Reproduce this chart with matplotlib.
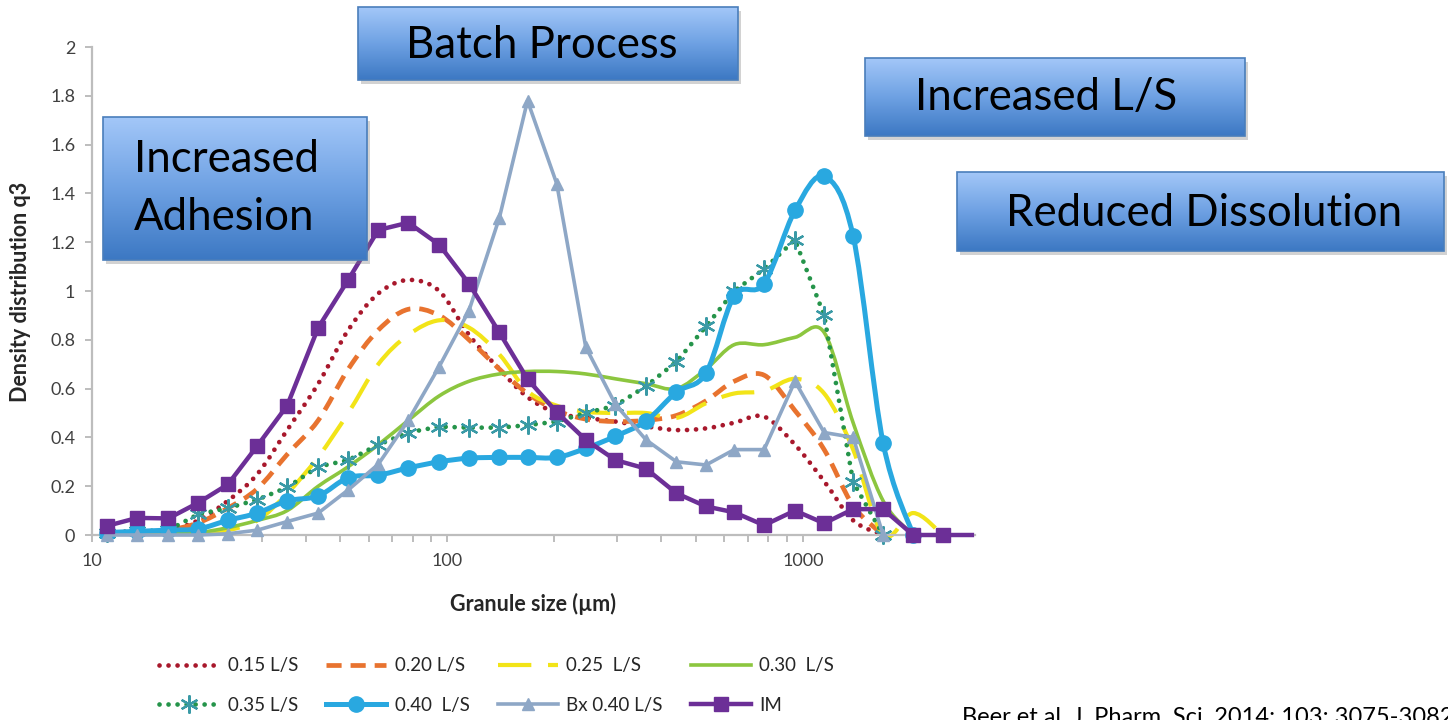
import numpy as np
import matplotlib
matplotlib.use("Agg")
import matplotlib.pyplot as plt
from matplotlib.colors import LinearSegmentedColormap
from matplotlib.patches import Rectangle, PathPatch
from matplotlib.path import Path
from matplotlib.lines import Line2D
from matplotlib.ticker import FixedLocator, FixedFormatter, NullFormatter

plt.rcParams['font.family'] = ['Lato', 'DejaVu Sans']

# granule size classes (um)
sizes = [11.0, 13.4, 16.4, 19.9, 24.1, 29.2, 35.4, 43.3, 52.6, 63.9,
         77.6, 94.8, 115, 140, 168, 203, 245, 297, 362, 441,
         534, 641, 778, 950, 1148, 1385, 1682, 2043, 2472, 2989]

# density distribution q3 per series
q_015 = [0.01, 0.015, 0.02, 0.06, 0.14, 0.25, 0.43, 0.62, 0.84, 0.99,
         1.045, 1.0, 0.82, 0.68, 0.565, 0.50, 0.48, 0.465, 0.445, 0.43,
         0.437, 0.46, 0.485, 0.37, 0.22, 0.06, 0.0]
q_020 = [0.01, 0.012, 0.02, 0.05, 0.11, 0.19, 0.33, 0.47, 0.68, 0.84,
         0.925, 0.90, 0.80, 0.68, 0.58, 0.51, 0.475, 0.465, 0.47, 0.49,
         0.55, 0.63, 0.655, 0.51, 0.35, 0.12, 0.0]
q_025 = [0.005, 0.005, 0.01, 0.01, 0.02, 0.06, 0.17, 0.32, 0.50, 0.70,
         0.82, 0.88, 0.85, 0.74, 0.59, 0.53, 0.505, 0.50, 0.50, 0.48,
         0.54, 0.58, 0.59, 0.64, 0.58, 0.35, 0.0, 0.09, 0.0]
q_030 = [0.005, 0.005, 0.01, 0.01, 0.03, 0.06, 0.10, 0.20, 0.28, 0.37,
         0.47, 0.57, 0.63, 0.66, 0.67, 0.67, 0.66, 0.64, 0.62, 0.60,
         0.68, 0.78, 0.78, 0.81, 0.83, 0.46, 0.14, 0.0]
q_035 = [0.01, 0.015, 0.02, 0.085, 0.11, 0.145, 0.195, 0.28, 0.307, 0.37,
         0.42, 0.444, 0.44, 0.44, 0.45, 0.465, 0.50, 0.53, 0.61, 0.71,
         0.855, 1.0, 1.09, 1.21, 0.90, 0.217, 0.0]
q_040 = [0.01, 0.015, 0.02, 0.025, 0.06, 0.09, 0.14, 0.16, 0.235, 0.245,
         0.275, 0.30, 0.315, 0.318, 0.318, 0.318, 0.355, 0.405, 0.467, 0.586,
         0.664, 0.98, 1.03, 1.33, 1.47, 1.225, 0.377, 0.0]
q_bx = [0.0, 0.0, 0.0, 0.0, 0.005, 0.02, 0.055, 0.09, 0.185, 0.29,
        0.47, 0.69, 0.92, 1.30, 1.78, 1.44, 0.77, 0.535, 0.39, 0.30,
        0.287, 0.35, 0.35, 0.63, 0.42, 0.40, 0.0]
q_im = [0.037, 0.07, 0.068, 0.132, 0.207, 0.366, 0.53, 0.85, 1.046, 1.25,
        1.28, 1.19, 1.03, 0.83, 0.639, 0.503, 0.39, 0.307, 0.272, 0.171,
        0.117, 0.093, 0.04, 0.10, 0.048, 0.106, 0.106, 0.0, 0.0, 0.0]

y_ticks = [0, 0.2, 0.4, 0.6, 0.8, 1, 1.2, 1.4, 1.6, 1.8, 2]
y_labels = ['0', '0.2', '0.4', '0.6', '0.8', '1', '1.2', '1.4', '1.6', '1.8', '2']
x_major = [10, 100, 1000]
x_minor = [20, 30, 40, 50, 60, 70, 80, 90, 200, 300, 400, 500, 600, 700, 800, 900]

W, H = 1448, 720
fig = plt.figure(figsize=(W / 100, H / 100), dpi=100)
fig.patch.set_facecolor('white')

ax = fig.add_axes([92 / W, 1 - 535 / H, (975 - 92) / W, (535 - 47) / H])
ax.set_xscale('log')
ax.set_xlim(10, 3050)
ax.set_ylim(0, 2)


def smooth_path(xs, ys):
    # Excel style smoothed line: Catmull-Rom as cubic Bezier, done in log-x space
    lx = np.log10(np.asarray(xs, float))
    y = np.asarray(ys, float)
    verts = [(xs[0], ys[0])]
    codes = [Path.MOVETO]
    m = len(lx)
    for i in range(m - 1):
        i0 = max(i - 1, 0)
        i3 = min(i + 2, m - 1)
        c1 = (lx[i] + (lx[i + 1] - lx[i0]) / 6, y[i] + (y[i + 1] - y[i0]) / 6)
        c2 = (lx[i + 1] - (lx[i3] - lx[i]) / 6, y[i + 1] - (y[i3] - y[i]) / 6)
        verts += [(10 ** c1[0], c1[1]), (10 ** c2[0], c2[1]), (xs[i + 1], ys[i + 1])]
        codes += [Path.CURVE4] * 3
    return Path(verts, codes)


def series(q, color, lw, ls='-', smooth=False, z=2, **mk):
    xs = sizes[:len(q)]
    if smooth:
        p = PathPatch(smooth_path(xs, q), fill=False, ec=color, lw=lw, ls=ls,
                      capstyle='round' if mk.pop('round', False) else 'butt',
                      zorder=z, clip_on=False)
        ax.add_patch(p)
        if 'marker' in mk:
            ax.plot(xs, q, ls='none', color=color, zorder=z, clip_on=False, **mk)
    else:
        rnd = mk.pop('round', False)
        ax.plot(xs, q, color=color, lw=lw, ls=ls, zorder=z, clip_on=False,
                dash_capstyle='round' if rnd else 'butt', **mk)
    hmk = {k: v for k, v in mk.items() if k != 'markevery'}
    return Line2D([], [], color=color, lw=lw, ls=ls,
                  dash_capstyle='round' if ls != '-' and lw > 3.3 and color != '#E8732F' else 'butt',
                  **hmk)


dot = (0, (0.01, 1.9))
h015 = series(q_015, '#A8182C', 3.4, dot, smooth=True, z=2.1, round=True)
h020 = series(q_020, '#E8732F', 3.4, (0, (3.2, 1.9)), smooth=True, z=2.2)
h025 = series(q_025, '#F2E418', 3.0, (0, (8, 4)), smooth=True, z=2.3)
h030 = series(q_030, '#8CC63F', 2.6, '-', smooth=True, z=2.4)
h035 = series(q_035, '#25944A', 3.4, dot, z=2.5, round=True,
              marker=(6, 2, 0), ms=13, mew=1.6, mec='#3A9AA6', mfc='#3A9AA6')
h040 = series(q_040, '#29A8E0', 3.6, '-', smooth=True, z=2.6,
              marker='o', ms=11, mec='#29A8E0', mfc='#29A8E0')
hbx = series(q_bx, '#8EA7C6', 2.6, '-', z=2.7, marker='^', ms=8)
him = series(q_im, '#6C2F97', 3.2, '-', z=2.8, marker='s', ms=9.5,
             markevery=list(range(len(q_im) - 1)))

for side in ['top', 'right']:
    ax.spines[side].set_visible(False)
for side in ['left', 'bottom']:
    ax.spines[side].set_color('#BDBDBD')
    ax.spines[side].set_linewidth(1.6)

ax.yaxis.set_major_locator(FixedLocator(y_ticks))
ax.yaxis.set_major_formatter(FixedFormatter(y_labels))
ax.xaxis.set_major_locator(FixedLocator(x_major))
ax.xaxis.set_major_formatter(FixedFormatter([str(v) for v in x_major]))
ax.xaxis.set_minor_locator(FixedLocator(x_minor))
ax.xaxis.set_minor_formatter(NullFormatter())
ax.tick_params(axis='both', which='both', direction='out', color='#BDBDBD',
               width=1.4, length=5, labelsize=13, labelcolor='#404040')
ax.tick_params(axis='y', pad=7)
ax.tick_params(axis='x', pad=8)

fig.text(21 / W, 1 - 292 / H, 'Density distribution q3', rotation=90,
         ha='center', va='center', fontsize=15.5, fontweight='bold', color='#262626')
fig.text(533 / W, 1 - 604 / H, 'Granule size (µm)', ha='center', va='center',
         fontsize=15.5, fontweight='bold', color='#262626')

handles = [h015, h035, h020, h040, h025, hbx, h030, him]
labels = ['0.15 L/S', '0.35 L/S', '0.20 L/S', '0.40  L/S',
          '0.25  L/S', 'Bx 0.40 L/S', '0.30  L/S', 'IM']
fig.legend(handles, labels, loc='upper left', bbox_to_anchor=(150 / W, 1 - 648 / H),
           ncol=4, frameon=False, fontsize=13.5, handlelength=3.2, handletextpad=0.45,
           columnspacing=1.5, labelspacing=1.2, numpoints=1, borderpad=0,
           labelcolor='#262626')

# overlay with callout boxes, in pixel units
ov = fig.add_axes([0, 0, 1, 1], zorder=10)
ov.set_xlim(0, W)
ov.set_ylim(H, 0)
ov.axis('off')
ov.patch.set_alpha(0)

grad = LinearSegmentedColormap.from_list('box', ['#A3C7F8', '#6EA1E3', '#3C78C3'])
boxes = [(103, 367, 117, 260), (358, 738, 7, 80), (865, 1245, 58, 136), (957, 1444, 172, 251)]
for x0, x1, y0, y1 in boxes:
    ov.add_patch(Rectangle((x0 + 3, y0 + 4), x1 - x0, y1 - y0, color='#808080',
                           alpha=0.35, lw=0))
    ov.imshow(np.linspace(0, 1, 256).reshape(-1, 1), cmap=grad, aspect='auto',
              extent=[x0, x1, y1, y0], zorder=2)
    ov.add_patch(Rectangle((x0, y0), x1 - x0, y1 - y0, fill=False,
                           ec='#4A7EBB', lw=1.2, zorder=3))

box_font = 31.5
ov.text(134, 160, 'Increased', fontsize=box_font, va='center', ha='left', zorder=4)
ov.text(134, 217, 'Adhesion', fontsize=box_font, va='center', ha='left', zorder=4)
ov.text(542, 45, 'Batch Process', fontsize=box_font, va='center', ha='center', zorder=4)
ov.text(915, 98, 'Increased L/S', fontsize=box_font, va='center', ha='left', zorder=4)
ov.text(1006, 213, 'Reduced Dissolution', fontsize=box_font, va='center', ha='left', zorder=4)
ov.text(962, 707, 'Beer et al. J. Pharm. Sci. 2014; 103: 3075-3082', fontsize=17,
        va='top', ha='left', zorder=4)

fig.savefig('out.png', dpi=100)
